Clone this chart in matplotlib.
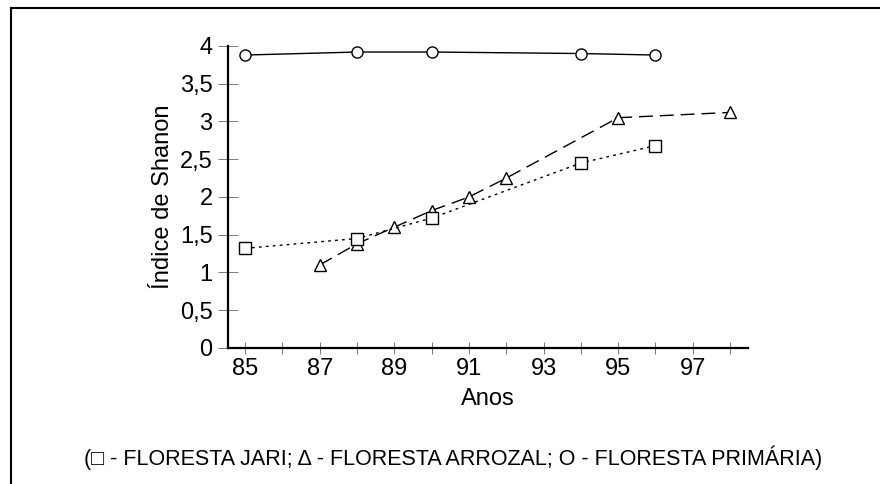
import numpy as np
import matplotlib.pyplot as plt
from matplotlib.lines import Line2D

plt.rcParams['font.family'] = ['Liberation Sans', 'DejaVu Sans']

# =========================================================================
# DATA
# =========================================================================
jari_anos = [85, 88, 90, 94, 96]
jari_h = [1.32, 1.45, 1.72, 2.45, 2.68]

arrozal_anos = [87, 88, 89, 90, 91, 92, 95, 98]
arrozal_h = [1.10, 1.38, 1.60, 1.82, 2.00, 2.25, 3.05, 3.12]

primaria_anos = [85, 88, 90, 94, 96]
primaria_h = [3.88, 3.92, 3.92, 3.90, 3.88]

x_ticks = list(range(85, 99))
x_labels = [str(a) if a % 2 == 1 else "" for a in x_ticks]
y_ticks = [0, 0.5, 1, 1.5, 2, 2.5, 3, 3.5, 4]
y_labels = ["0", "0,5", "1", "1,5", "2", "2,5", "3", "3,5", "4"]

# =========================================================================
# PLOT
# =========================================================================
fig = plt.figure(figsize=(8.8, 4.84), dpi=100)
ax = fig.add_axes([0.259, 0.281, 0.591, 0.624])

mk = dict(color='black', markerfacecolor='white', markeredgecolor='black',
          markeredgewidth=1.0, lw=1.0)
ax.plot(primaria_anos, primaria_h, ls='-', marker='o', ms=8, **mk)
ax.plot(arrozal_anos, arrozal_h, ls=(0, (10, 5)), marker='^', ms=9, **mk)
ax.plot(jari_anos, jari_h, ls=(0, (2, 3)), marker='s', ms=9, **mk)

ax.set_xlim(84.54, 98.48)
ax.set_ylim(0, 4)
ax.set_xticks(x_ticks)
ax.set_xticklabels(x_labels)
ax.set_yticks(y_ticks)
ax.set_yticklabels(y_labels)
ax.tick_params(axis='y', direction='inout', length=14, width=0.6,
               color='#666666', labelsize=17, pad=4)
ax.tick_params(axis='x', direction='inout', length=8, width=0.6,
               color='#666666', labelsize=17, pad=3)

for s in ['top', 'right']:
    ax.spines[s].set_visible(False)
ax.spines['left'].set_linewidth(1.6)
ax.spines['bottom'].set_linewidth(1.6)

ax.set_xlabel("Anos", fontsize=17, labelpad=6)
ax.set_ylabel("Índice de Shanon", fontsize=17, labelpad=4)

fig.text(0.515, 0.054, "(\u25a1 - FLORESTA JARI; \u0394 - FLORESTA ARROZAL; O - FLORESTA PRIMÁRIA)",
         ha='center', va='center', fontsize=15.5)

# moldura (esquerda e topo)
fig.add_artist(Line2D([0.012, 0.012], [0.0, 0.984], color='black', lw=1.5,
                      transform=fig.transFigure))
fig.add_artist(Line2D([0.012, 1.0], [0.984, 0.984], color='black', lw=1.5,
                      transform=fig.transFigure))

fig.savefig("out.png", dpi=100, facecolor='white')
